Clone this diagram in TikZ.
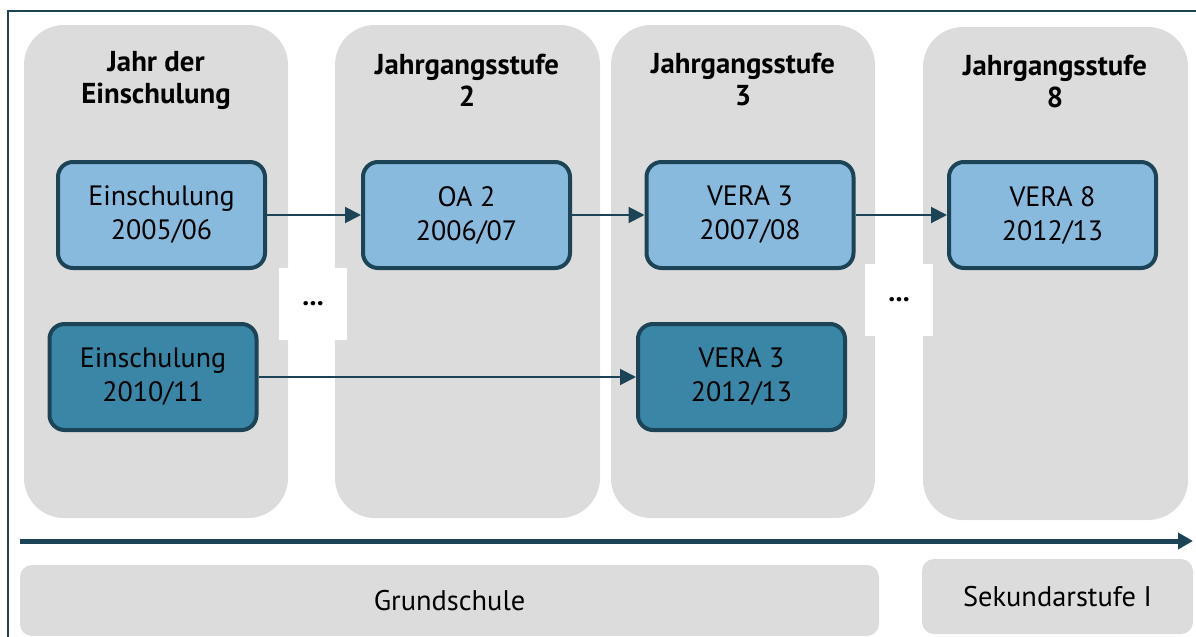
\documentclass[tikz,border=0pt]{standalone}
\usepackage{fontspec}
\setmainfont{PT Sans}
\usetikzlibrary{arrows.meta}

\definecolor{colgray}{HTML}{DCDCDC}
\definecolor{lightblue}{HTML}{88BADE}
\definecolor{darkblue}{HTML}{3A86A7}
\definecolor{edge}{HTML}{1C4456}

\begin{document}
\begin{tikzpicture}[x=0.5pt,y=-0.5pt,
    column/.style={fill=colgray, rounded corners=20pt},
    head/.style={font=\fontsize{14.4}{16}\selectfont\bfseries, align=center},
    test/.style={draw=edge, line width=2pt, rounded corners=7.5pt,
        minimum width=103.5pt, minimum height=53pt, align=center,
        font=\fontsize{14}{17}\selectfont},
    early/.style={test, fill=lightblue},
    late/.style={test, fill=darkblue},
    phase/.style={fill=colgray, rounded corners=6pt, align=center,
        font=\fontsize{14.2}{15}\selectfont},
    link/.style={draw=edge, line width=1pt, -{Triangle[length=8pt,width=8pt]}},
    gap/.style={fill=white, font=\bfseries\fontsize{14}{16}\selectfont}]
    \useasboundingbox (0,0) rectangle (1196,637);

    % frame
    \draw[edge, line width=1pt] (8,660) |- (1220,11);

    % columns
    \fill[column] (24,25) rectangle (288,518);
    \fill[column] (335,25) rectangle (600,518);
    \fill[column] (611,25) rectangle (875,518);
    \fill[column] (923,27) rectangle (1188,520);

    \node[head] (h1) at (156,80) {Jahr der\\Einschulung};
    \node[head] (h2) at (467,80) {Jahrgangsstufe\\2};
    \node[head] (h3) at (743,80) {Jahrgangsstufe\\3};
    \node[head] (h4) at (1055,82) {Jahrgangsstufe\\8};

    % skipped years
    \node[gap, minimum width=34pt, minimum height=36pt] (dots1) at (313,304) {...};
    \node[gap, minimum width=34pt, minimum height=36pt] (dots2) at (899,300) {...};

    % tests
    \node[early] (e05) at (161.5,215) {Einschulung\\2005/06};
    \node[early] (oa2) at (466.5,215) {OA 2\\2006/07};
    \node[early] (v307) at (750,215) {VERA 3\\2007/08};
    \node[early] (v812) at (1052.5,215) {VERA 8\\2012/13};

    \node[late] (e10) at (153,377) {Einschulung\\2010/11};
    \node[late] (v312) at (741.5,377) {VERA 3\\2012/13};

    \draw[link] (e05) -- (oa2);
    \draw[link] (oa2) -- (v307);
    \draw[link] (v307) -- (v812);
    \draw[link] (e10) -- (v312);

    % time axis
    \coordinate (t0) at (20,541);
    \coordinate (t1) at (1193,541);
    \draw[edge, line width=2.5pt, -{Triangle[length=7.5pt,width=8pt]}] (t0) -- (t1);

    \node[phase, minimum width=429.5pt, minimum height=35.5pt] (gs) at (449.5,600.5) {Grundschule};
    \node[phase, minimum width=135.5pt, minimum height=37.5pt] (sek) at (1057.5,596.5) {Sekundarstufe I};
\end{tikzpicture}
\end{document}
